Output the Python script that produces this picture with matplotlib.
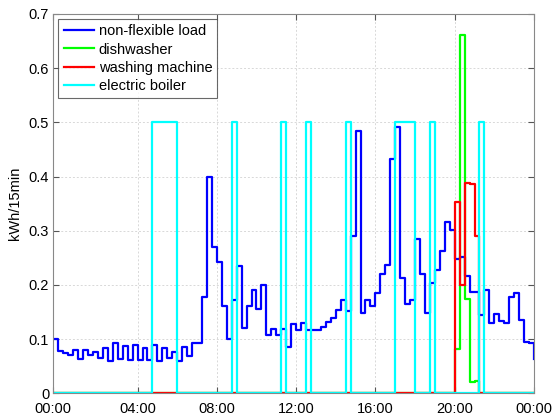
import matplotlib
matplotlib.use("Agg")
import matplotlib.pyplot as plt
import numpy as np

plt.rcParams['font.family'] = ['Liberation Sans', 'DejaVu Sans']

# 15-min slot index (MATLAB-style stairs, 0..97)
slots = np.arange(98)

non_flexible = [0.1, 0.078, 0.074, 0.070, 0.08, 0.063, 0.08, 0.071, 0.077, 0.065,
                0.083, 0.059, 0.093, 0.063, 0.088, 0.062, 0.09, 0.062, 0.083, 0.062,
                0.09, 0.059, 0.083, 0.065, 0.077, 0.059, 0.085, 0.069, 0.093, 0.093,
                0.178, 0.40, 0.27, 0.242, 0.162, 0.1, 0.172, 0.234, 0.12, 0.162,
                0.19, 0.155, 0.2, 0.108, 0.118, 0.108, 0.119, 0.085, 0.128, 0.117,
                0.129, 0.116, 0.116, 0.117, 0.123, 0.131, 0.139, 0.154, 0.172, 0.152,
                0.291, 0.484, 0.148, 0.173, 0.162, 0.185, 0.221, 0.236, 0.433, 0.491,
                0.213, 0.164, 0.172, 0.284, 0.22, 0.148, 0.204, 0.227, 0.262, 0.317,
                0.302, 0.247, 0.251, 0.216, 0.187, 0.187, 0.145, 0.19, 0.129, 0.147,
                0.134, 0.129, 0.178, 0.185, 0.136, 0.094, 0.093, 0.063]

dishwasher = [0.0] * 81 + [0.081, 0.662, 0.174, 0.021, 0.022] + [0.0] * 12
washing_machine = [0.0] * 81 + [0.353, 0.2, 0.389, 0.386, 0.29] + [0.0] * 12

boiler_on_slots = [20, 21, 22, 23, 24, 36, 46, 51, 59, 69, 70, 71, 72, 76, 86]
boiler_power = 0.5
electric_boiler = [boiler_power if s in boiler_on_slots else 0.0 for s in range(98)]

tick_pos = [0, 17, 33, 49, 65, 81, 97]
tick_labels = ['00:00', '04:00', '08:00', '12:00', '16:00', '20:00', '00:00']
y_ticks = [0, 0.1, 0.2, 0.3, 0.4, 0.5, 0.6, 0.7]
y_labels = ['0', '0.1', '0.2', '0.3', '0.4', '0.5', '0.6', '0.7']

fig = plt.figure(figsize=(5.53, 4.15), dpi=100)
ax = fig.add_axes([0.0964, 0.0523, 0.8692, 0.914])

lw = 1.6
ax.plot(slots, non_flexible, drawstyle='steps-post', color=(0, 0, 1), lw=lw, label='non-flexible load')
ax.plot(slots, dishwasher, drawstyle='steps-post', color=(0, 1, 0), lw=lw, label='dishwasher')
ax.plot(slots, washing_machine, drawstyle='steps-post', color=(1, 0, 0), lw=lw, label='washing machine')
ax.plot(slots, electric_boiler, drawstyle='steps-post', color=(0, 1, 1), lw=lw, label='electric boiler')

ax.set_xlim(0, 97)
ax.set_ylim(0, 0.7)
ax.set_xticks(tick_pos)
ax.set_xticklabels(tick_labels)
ax.set_yticks(y_ticks)
ax.set_yticklabels(y_labels)
ax.tick_params(direction='in', top=True, right=True, labelsize=10.5, length=4,
               color='#555555')
ax.tick_params(axis='x', pad=6.2)
ax.tick_params(axis='y', pad=3)
for s in ax.spines.values():
    s.set_color('#888888')
    s.set_linewidth(0.8)
ax.grid(True, color='#d8d8d8', linestyle=(0, (2, 2)), linewidth=0.7)
ax.set_ylabel('kWh/15min', fontsize=10.5, labelpad=5)

leg = ax.legend(loc='upper left', fontsize=10.5, frameon=True, fancybox=False,
                handlelength=2.1, borderpad=0.35, labelspacing=0.3,
                handletextpad=0.3, borderaxespad=0.35)
leg.get_frame().set_edgecolor('#444444')
leg.get_frame().set_linewidth(0.8)

fig.savefig('out.png', dpi=100)
